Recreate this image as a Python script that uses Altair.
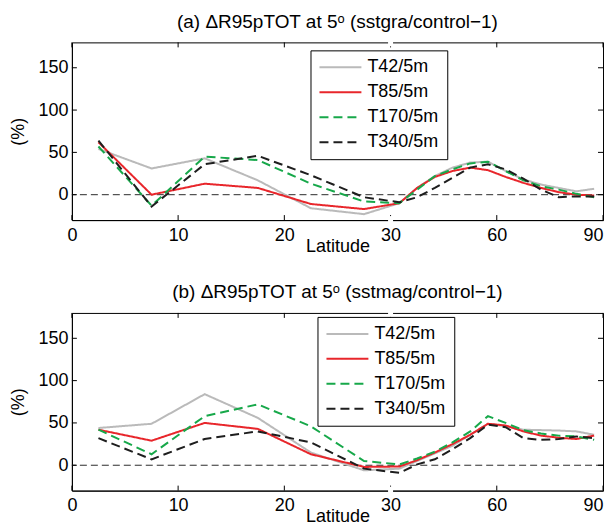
import altair as alt
import pandas as pd

# ---- data ----
lats = [2.5, 7.5, 12.5, 17.5, 22.5, 27.5, 32.5, 37.5, 42.5, 47.5,
        52.5, 57.5, 62.5, 67.5, 72.5, 77.5, 82.5, 87.5]
series = ["T42/5m", "T85/5m", "T170/5m", "T340/5m"]

a_T42 = [54, 31, 43, 17, -16, -23, -10, 8, 22, 32, 38, 39, 28, 18, 12, 8, 4, 7]
a_T85 = [62, 0, 13, 8, -11, -17, -10, 8, 21, 28, 32, 29, 21, 14, 8, 3, 0, -1]
a_T170 = [57, -13, 45, 41, 13, -8, -10, 6, 22, 30, 37, 39, 28, 17, 10, 6, 1, -3]
a_T340 = [64, -14, 36, 46, 23, -3, -9, -3, 8, 20, 32, 36, 30, 19, 6, -3, -2, -2]

b_T42 = [44, 49, 84, 56, 15, -6, -4, 5, 14, 23, 36, 49, 46, 42, 41.5, 41, 40, 36]
b_T85 = [42, 29, 50, 43, 13, -2, -1.5, 6, 15, 25, 36, 49, 47, 40, 35, 32.5, 31, 35]
b_T170 = [42, 13, 58, 72, 46, 5, 1, 8, 16, 27, 40, 58, 50, 41.5, 37.5, 35, 34, 30]
b_T340 = [32, 7, 31, 40, 27, -4, -9, 1, 7, 19, 32, 48, 45, 32, 30, 31, 34, 32]

x_ticks = [0, 10, 20, 30, 40, 50]          # display positions (broken axis)
y_ticks = [0, 50, 100, 150]
zero_line = [0]
break_at = [30]

title_a = "(a) \u0394R95pTOT at 5\u1d52 (sstgra/control\u22121)"
title_b = "(b) \u0394R95pTOT at 5\u1d52 (sstmag/control\u22121)"

colors = ["#bababa", "#e8262b", "#17a84a", "#1e1e1e"]
dashes = [[1, 0], [1, 0], [9, 5], [9, 5]]

W, H = 532, 178
FONT = "Liberation Sans"


def long_df(vals):
    rows = []
    for s, v in zip(series, vals):
        for la, val in zip(lats, v):
            rows.append({"lat": la, "value": val, "series": s})
    return pd.DataFrame(rows)


xexpr = "datum.value == 40 ? '60' : datum.value == 50 ? '90' : datum.label"
last_right = {"condition": {"test": "datum.value == 50", "value": "right"},
              "value": "center"}


def panel(vals, title, lx, ly):
    df = long_df(vals)
    xscale = alt.Scale(domain=[0, 50], nice=False, zero=False)
    yscale = alt.Scale(domain=[-30, 180], nice=False, zero=False)
    leg = alt.Legend(
        title=None, orient="none", legendX=lx, legendY=ly,
        symbolType="M-3,0H3", symbolSize=196, symbolStrokeWidth=2,
        symbolOffset=13,
        labelFont=FONT, labelFontSize=18, labelColor="black",
        labelOffset=18, padding=8, rowPadding=7,
        strokeColor="black", fillColor="white",
    )
    lines = alt.Chart(df).transform_calculate(
        xd="datum.lat <= 30 ? datum.lat : 30 + (datum.lat - 30) / 3"
    ).mark_line(strokeWidth=2).encode(
        x=alt.X("xd:Q", scale=xscale, axis=alt.Axis(
            title="Latitude", values=x_ticks, labelExpr=xexpr, ticks=False,
            labelFlush=False, labelAlign=last_right, grid=False, labelPadding=6,
            titleY=31, titleBaseline="alphabetic", domainColor="black")),
        y=alt.Y("value:Q", scale=yscale, axis=alt.Axis(
            title="(%)", values=y_ticks, ticks=False, grid=False,
            labelPadding=4, titlePadding=10, domainColor="black")),
        color=alt.Color("series:N", scale=alt.Scale(domain=series, range=colors),
                        sort=series, legend=leg),
        strokeDash=alt.StrokeDash("series:N", scale=alt.Scale(domain=series, range=dashes),
                                  sort=series, legend=leg),
        order=alt.Order("lat:Q"),
    )
    zero = alt.Chart(pd.DataFrame({"z": zero_line})).mark_rule(
        color="#2a2a2a", strokeWidth=1, strokeDash=[7, 4]
    ).encode(y=alt.Y("z:Q", scale=yscale))

    xt = pd.DataFrame({"t": x_ticks})
    yt = pd.DataFrame({"t": y_ticks})
    tick_style = dict(color="black", strokeWidth=1)
    xt_bot = alt.Chart(xt).mark_rule(**tick_style).encode(
        x=alt.X("t:Q", scale=xscale), y=alt.value(H), y2=alt.value(H - 5))
    xt_top = alt.Chart(xt).mark_rule(**tick_style).encode(
        x=alt.X("t:Q", scale=xscale), y=alt.value(0), y2=alt.value(5))
    yt_l = alt.Chart(yt).mark_rule(**tick_style).encode(
        y=alt.Y("t:Q", scale=yscale), x=alt.value(0), x2=alt.value(5))
    yt_r = alt.Chart(yt).mark_rule(**tick_style).encode(
        y=alt.Y("t:Q", scale=yscale), x=alt.value(W), x2=alt.value(W - 5))

    bk = pd.DataFrame({"b": break_at})
    br_bot = alt.Chart(bk).mark_rule(color="white", strokeWidth=5).encode(
        x=alt.X("b:Q", scale=xscale), y=alt.value(H - 4), y2=alt.value(H + 3))
    br_top = alt.Chart(bk).mark_rule(color="white", strokeWidth=5).encode(
        x=alt.X("b:Q", scale=xscale), y=alt.value(-3), y2=alt.value(4))

    return alt.layer(zero, lines, xt_bot, xt_top, yt_l, yt_r, br_bot, br_top).properties(
        width=W, height=H,
        title=alt.TitleParams(title, font=FONT, fontSize=19, fontWeight="normal",
                              color="black", offset=5, anchor="middle"),
    )


pa = panel([a_T42, a_T85, a_T170, a_T340], title_a, 239, 8)
pb = panel([b_T42, b_T85, b_T170, b_T340], title_b, 246, 4)

chart = alt.vconcat(pa, pb, spacing=27).resolve_scale(
    color="independent", strokeDash="independent"
).properties(
    padding={"left": 1, "top": 4, "right": 0, "bottom": 0},
    background="white",
).configure_view(
    stroke="black", strokeWidth=1
).configure_axis(
    labelFont=FONT, labelFontSize=18, labelColor="black",
    titleFont=FONT, titleFontSize=18, titleFontWeight="normal", titleColor="black",
    domainWidth=1,
)

chart.save("out.html", embed_options={"renderer": "svg", "actions": False})
